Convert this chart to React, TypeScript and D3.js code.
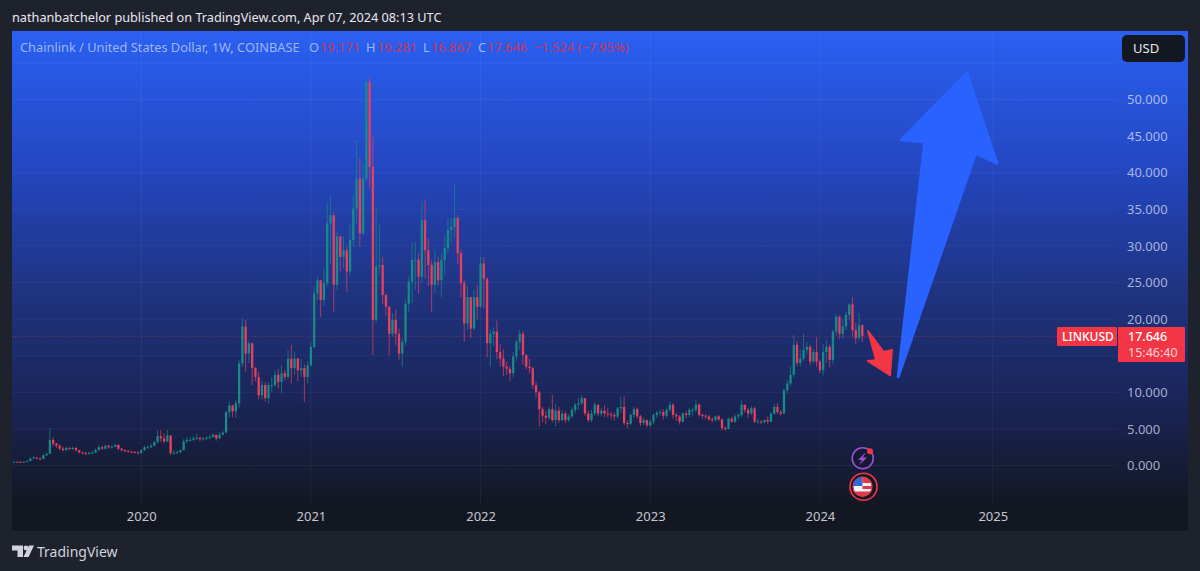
import * as d3 from "d3";
import React, { useRef, useEffect } from "react";

const width = 1200;
const height = 571;

const firstWeek = "2019-04-08";

// weekly bars, open of a bar is the close before it
const closes = [
  0.52, 0.5, 0.48, 0.5, 0.6, 0.95, 1.1, 0.95, 0.9, 1.4,
  1.6, 3.5, 3.0, 2.7, 2.3, 2.1, 2.4, 2.3, 2.4, 2.1,
  1.8, 1.7, 1.6, 1.7, 1.75, 2.1, 2.5, 2.3, 2.7, 2.5,
  2.55, 2.8, 2.3, 2.1, 2.0, 1.9, 1.85, 1.8, 1.7, 2.1,
  2.5, 2.5, 2.7, 3.2, 4.0, 3.7, 3.3, 4.1, 1.7, 1.75,
  1.8, 2.1, 3.3, 3.5, 3.5, 3.7, 3.8, 3.6, 3.7, 3.8,
  3.9, 4.2, 3.7, 4.2, 4.5, 7.3, 8.2, 7.4, 8.5, 13.95,
  19, 15.3, 16.7, 13.3, 12.1, 9.6, 11, 9.2, 11, 11,
  12.4, 11.4, 12.6, 12.1, 14.6, 13.3, 14.6, 13, 13.3, 12.1,
  13.7, 16.2, 23.5, 25.3, 22.6, 24.9, 33.1, 34.2, 24.7, 31.3,
  28.5, 29.4, 26.5, 30.8, 35.1, 39.2, 31.7, 39.2, 52.4, 40.8,
  19.9, 27.2, 27.4, 23.3, 21.7, 18, 19.9, 18, 15.3, 16.9,
  22.1, 25.1, 28.1, 28.1, 25.8, 33.5, 29.4, 27.4, 24.7, 27.8,
  25.3, 28.1, 29.7, 32.2, 32.6, 33.8, 29, 24.9, 19.4, 23,
  18.7, 23, 21.7, 27.6, 25.5, 16.7, 18, 18.3, 15.5, 14.6,
  13.5, 13.2, 12.6, 14.9, 16.9, 18, 15.1, 13.5, 13.3, 11,
  10, 7.7, 6.8, 6.5, 7.7, 6.2, 7.5, 6.2, 7.1, 6.2,
  6.7, 7.6, 8.3, 8.5, 9.2, 7.1, 6.2, 7.1, 8.3, 7.1,
  7.5, 7.1, 7, 6.9, 6.7, 7.8, 8, 5.8, 5.7, 6.9,
  7.7, 6.7, 5.8, 6.2, 5.5, 6, 6.9, 7.2, 7.3, 6.8,
  7.6, 8.3, 6.9, 6.7, 6, 7.1, 6.9, 7.6, 7.6, 8.3,
  6.9, 6.8, 6.7, 6.3, 6.2, 6.7, 6.3, 5.1, 5, 6.4,
  6, 6.7, 6.9, 8.3, 7.6, 7.1, 7.8, 6, 6, 5.9,
  6.2, 6, 7.1, 8, 7.3, 7.1, 10.3, 11.2, 12.4, 16.5,
  14, 14.6, 15.8, 16.2, 14.2, 15.5, 14.2, 13, 15.5, 16.2,
  14.4, 18.3, 20.3, 18, 19, 20.6, 22, 18.5, 17.4, 19.17,
  17.646,
];

const highs = [
  0.55, 0.55, 0.55, 0.55, 0.7, 1.05, 1.3, 1.15, 1.1, 1.6,
  1.8, 5.1, 3.9, 3.1, 2.9, 2.6, 2.6, 2.6, 2.6, 2.5,
  2.1, 1.9, 1.9, 1.9, 2.0, 2.3, 2.8, 2.7, 2.9, 2.8,
  2.8, 3.0, 2.9, 2.4, 2.2, 2.1, 2.0, 2.0, 1.9, 2.2,
  2.7, 2.8, 3.0, 3.4, 4.8, 4.8, 4.4, 4.8, 4.1, 2.1,
  2.1, 2.2, 3.6, 3.9, 3.9, 4.0, 4.3, 3.9, 3.9, 4.0,
  4.2, 4.4, 4.2, 4.6, 4.8, 7.5, 8.7, 8.3, 8.9, 14.4,
  20.1, 19.9, 17, 16.8, 13.5, 12.8, 11.6, 11.4, 11.4, 12.1,
  13, 13.2, 13.7, 13.1, 15.8, 16.5, 15.5, 14.7, 14.6, 13.8,
  14.3, 16.9, 24.5, 25.8, 23.9, 26.9, 35.8, 36.9, 34.6, 32,
  31, 31.3, 29.9, 33, 37, 44.5, 42, 41.3, 52.7, 53,
  44.9, 35.3, 32.9, 28.5, 23.5, 21.5, 20.8, 21.3, 18.7, 17.4,
  22.6, 25.8, 30.5, 30.5, 29, 36, 36.3, 31, 28, 29.5,
  28.5, 29, 31.4, 33.8, 33.9, 38.3, 34.2, 29.5, 25.3, 24.5,
  21.5, 24, 24.6, 28.5, 28.5, 25.7, 18.6, 18.9, 19.8, 16.6,
  15.9, 14.2, 13.6, 15.5, 17.2, 18.5, 18.3, 15.2, 14.6, 13.5,
  11.5, 10.2, 8, 7.5, 8, 9.6, 8.4, 8, 7.6, 7.4,
  7, 8, 8.5, 9.2, 9.6, 9.1, 7.5, 7.6, 8.6, 8.3,
  7.9, 8.2, 7.9, 7.3, 7.2, 8, 9.4, 9.5, 6.2, 7.1,
  8, 7.9, 6.9, 6.6, 6.3, 6.3, 7.1, 7.5, 7.7, 7.7,
  7.9, 8.7, 8.5, 7.2, 6.9, 7.2, 7.4, 7.9, 7.9, 9,
  8.5, 7.1, 7, 6.9, 6.6, 6.9, 6.9, 6.4, 5.4, 6.6,
  6.7, 7, 7.2, 8.9, 8.2, 7.9, 8.1, 8, 6.4, 6.2,
  6.3, 6.7, 7.3, 8.4, 8.5, 7.6, 10.5, 11.7, 13.5, 17.8,
  17, 15.9, 18, 16.9, 16.5, 15.9, 17.5, 14.5, 16.6, 17.1,
  16.5, 18.6, 20.6, 20.5, 20, 21, 22.2, 23, 19.5, 20.8,
  19.281,
];

const lows = [
  0.45, 0.45, 0.4, 0.45, 0.5, 0.6, 0.9, 0.85, 0.8, 0.9,
  1.3, 1.6, 2.6, 2.4, 2.1, 1.9, 2.0, 2.1, 2.1, 1.9,
  1.6, 1.5, 1.4, 1.5, 1.6, 1.7, 2.0, 2.1, 2.2, 2.3,
  2.3, 2.5, 2.1, 1.9, 1.8, 1.75, 1.7, 1.65, 1.5, 1.6,
  2.0, 2.3, 2.4, 2.6, 3.0, 3.2, 3.0, 3.2, 1.4, 1.5,
  1.6, 1.7, 2.0, 3.1, 3.3, 3.3, 3.5, 3.3, 3.4, 3.5,
  3.6, 3.8, 3.4, 3.6, 4.1, 4.4, 6.6, 6.6, 6.5, 7.9,
  13.5, 12.8, 14, 11, 11.5, 9, 9, 8.7, 8.5, 10,
  10.7, 10.5, 9.9, 11.6, 11.8, 11.2, 12.4, 11.5, 12.1, 8.7,
  11.2, 13.5, 16.0, 22.5, 20.3, 21.8, 24.5, 27.5, 21, 24,
  26.5, 27, 23.7, 26, 30, 33, 29.9, 31.5, 38.9, 37.9,
  15.1, 19.5, 26, 22, 20.5, 15.1, 17.6, 16.5, 14.4, 13.5,
  16.4, 21, 22.2, 24, 23.5, 25, 25.5, 24.5, 21, 23.5,
  24.5, 23, 26, 29, 30.5, 31, 27.5, 23, 16.9, 18.5,
  17.4, 18.5, 20, 21.5, 21.5, 14.8, 13.5, 16.3, 14.5, 13.5,
  12.2, 12.4, 11.5, 12, 14.3, 15.8, 13.8, 13.1, 12.6, 10.5,
  9.3, 5.3, 5.9, 5.6, 6.2, 5.9, 5.3, 5.8, 6, 5.8,
  6, 6.5, 7.1, 7.6, 8.2, 6.8, 5.9, 5.9, 6.8, 6.7,
  6.7, 6.6, 6.6, 6.3, 6.1, 6.4, 7.2, 5.5, 5.1, 5.5,
  6.5, 6.4, 5.4, 5.5, 5.2, 5.2, 5.6, 6.5, 6.8, 6.3,
  6.5, 7.3, 6.4, 6.1, 5.6, 5.8, 6.4, 6.6, 6.8, 7.2,
  6.7, 6.4, 6.3, 6.1, 5.9, 6, 6.1, 4.8, 4.8, 4.9,
  5.8, 5.8, 6.3, 6.6, 7.2, 6.5, 6.9, 5.8, 5.7, 5.7,
  5.7, 5.7, 5.9, 6.9, 7, 6.8, 7, 9.8, 10.9, 12,
  13.6, 13.5, 14.3, 15.2, 13.7, 14, 13.5, 12.6, 12.3, 14,
  13.4, 13.9, 17.7, 17.3, 17.3, 18.5, 19.9, 17.5, 16.6, 17.1,
  16.867,
];

const priceTicks = [0, 5, 10, 15, 20, 25, 30, 35, 40, 45, 50];
const gridPrices = [0, 5, 10, 15, 20, 25, 30, 35, 40, 45, 50, 55];
const yearTicks = ["2020-01-06", "2021-01-04", "2022-01-03", "2023-01-02", "2024-01-01", "2025-01-06"];

const lastPrice = 17.646;

// drawn annotations as [week number, price]
const blueArrow = [[271, 12.13], [279.2, 44.2], [272, 44.5], [292, 53.6], [301.4, 41.3], [294.8, 42.65]];
const redArrow = [[261.8, 18.4], [266.6, 15.55], [269.2, 15.8], [268.7, 12.27], [261.6, 14.3], [264.2, 14.4]];

const legendParts = [
  { t: "Chainlink / United States Dollar, 1W, COINBASE", x: 20, red: false },
  { t: "O", x: 309, red: false },
  { t: "19.171", x: 320, red: true },
  { t: "H", x: 366, red: false },
  { t: "19.281", x: 377, red: true },
  { t: "L", x: 423, red: false },
  { t: "16.867", x: 431, red: true },
  { t: "C", x: 478, red: false },
  { t: "17.646", x: 487, red: true },
  { t: "\u22121.524 (\u22127.95%)", x: 534, red: true },
];

const font = "'Noto Sans', sans-serif";
const upColor = "#188a88";
const downColor = "#e8405e";

const parseDay = d3.utcParse("%Y-%m-%d");
const weekDate = (i: number) => d3.utcDay.offset(parseDay(firstWeek) as Date, i * 7);

export default function App() {
  const ref = useRef(null);

  useEffect(() => {
    const svg = d3.select(ref.current);

    const x = d3
      .scaleUtc()
      .domain([parseDay(firstWeek) as Date, parseDay("2024-04-01") as Date])
      .range([14, 862.3]);
    const y = d3.scaleLinear().domain([0, 50]).range([465.5, 99.5]);

    // grid
    const grid = svg.select(".grid");
    grid
      .selectAll("line.h")
      .data(gridPrices)
      .join("line")
      .attr("class", "h")
      .attr("x1", 12)
      .attr("x2", 1117)
      .attr("y1", (d: any) => y(d))
      .attr("y2", (d: any) => y(d))
      .attr("stroke", "rgba(255,255,255,0.05)");
    grid
      .selectAll("line.v")
      .data(yearTicks)
      .join("line")
      .attr("class", "v")
      .attr("x1", (d: any) => x(parseDay(d) as Date))
      .attr("x2", (d: any) => x(parseDay(d) as Date))
      .attr("y1", 31)
      .attr("y2", 505)
      .attr("stroke", "rgba(255,255,255,0.05)");

    // price line
    svg
      .select(".priceLine")
      .attr("x1", 12)
      .attr("x2", 1117)
      .attr("y1", y(lastPrice))
      .attr("y2", y(lastPrice))
      .attr("stroke", "#f23645")
      .attr("stroke-opacity", 0.5)
      .attr("stroke-dasharray", "1 2");

    // candles
    const bars = closes.map((c, i) => ({
      date: weekDate(i),
      open: i === 0 ? c : closes[i - 1],
      close: c,
      high: highs[i],
      low: lows[i],
    }));
    const barColor = (d: any) => (d.close >= d.open ? upColor : downColor);

    svg
      .select(".wicks")
      .selectAll("line")
      .data(bars)
      .join("line")
      .attr("x1", (d: any) => x(d.date))
      .attr("x2", (d: any) => x(d.date))
      .attr("y1", (d: any) => y(Math.max(d.high, d.open, d.close)))
      .attr("y2", (d: any) => y(Math.min(d.low, d.open, d.close)))
      .attr("stroke", barColor)
      .attr("stroke-opacity", 0.7)
      .attr("stroke-width", 1);
    svg
      .select(".bodies")
      .selectAll("rect")
      .data(bars)
      .join("rect")
      .attr("x", (d: any) => x(d.date) - 1.15)
      .attr("width", 2.3)
      .attr("y", (d: any) => y(Math.max(d.open, d.close)))
      .attr("height", (d: any) => Math.max(1, Math.abs(y(d.open) - y(d.close))))
      .attr("fill", barColor);

    // arrows
    const arrowLine = d3
      .line()
      .x((d: any) => x(weekDate(d[0])))
      .y((d: any) => y(d[1]))
      .curve(d3.curveLinearClosed);
    svg
      .select(".blueArrow")
      .attr("d", arrowLine(blueArrow as any))
      .attr("fill", "#2962ff")
      .attr("stroke", "#2962ff")
      .attr("stroke-width", 3)
      .attr("stroke-linejoin", "round");
    svg
      .select(".redArrow")
      .attr("d", arrowLine(redArrow as any))
      .attr("fill", "#f23645")
      .attr("stroke", "#f23645")
      .attr("stroke-width", 1.5)
      .attr("stroke-linejoin", "round");

    // axes
    svg
      .select(".y-axis")
      .attr("transform", "translate(1127,0)")
      .call(
        d3
          .axisRight(y)
          .tickValues(priceTicks)
          .tickSize(0)
          .tickFormat(d3.format(".3f") as any) as any
      )
      .call((g: any) => g.select(".domain").remove())
      .call((g: any) =>
        g
          .selectAll("text")
          .attr("x", 0)
          .attr("text-anchor", "start")
          .attr("fill", "rgba(214,222,245,0.75)")
          .style("font-family", font)
          .style("font-size", "13px")
      );
    svg
      .select(".x-axis")
      .attr("transform", "translate(0,509)")
      .call(
        d3
          .axisBottom(x)
          .tickValues(yearTicks.map((d) => parseDay(d) as Date))
          .tickSize(0)
          .tickFormat(d3.utcFormat("%Y") as any) as any
      )
      .call((g: any) => g.select(".domain").remove())
      .call((g: any) =>
        g
          .selectAll("text")
          .attr("y", 3)
          .attr("fill", "#c4c7d0")
          .style("font-family", font)
          .style("font-size", "13px")
      );
  }, []);

  return (
    <svg
      ref={ref}
      width={width}
      height={height}
      viewBox={`0 0 ${width} ${height}`}
      style={{ position: "absolute", left: 0, top: 0, display: "block" }}
    >
      <defs>
        <linearGradient id="paneFill" x1="0" y1="0" x2="0" y2="1">
          <stop offset="0" stopColor="#2a60f2" />
          <stop offset="0.26" stopColor="#2448c4" />
          <stop offset="0.52" stopColor="#1f3380" />
          <stop offset="0.74" stopColor="#1a2558" />
          <stop offset="0.95" stopColor="#131722" />
          <stop offset="1" stopColor="#131722" />
        </linearGradient>
      </defs>

      <rect x={0} y={0} width={width} height={height} fill="#1e222d" />
      <rect x={12} y={31} width={1176} height={500} fill="url(#paneFill)" />

      <text x={12} y={22} fill="#e6e8ee" fontFamily={font} fontSize={12.7}>
        nathanbatchelor published on TradingView.com, Apr 07, 2024 08:13 UTC
      </text>

      <g className="grid"></g>
      <line className="priceLine"></line>
      <g className="wicks"></g>
      <g className="bodies"></g>
      <path className="blueArrow"></path>
      <path className="redArrow"></path>
      <g className="y-axis"></g>
      <g className="x-axis"></g>

      {legendParts.map((p) => (
        <text
          key={p.x}
          x={p.x}
          y={52}
          fontFamily={font}
          fontSize={12.8}
          fill={p.red ? "#c8385f" : "rgba(205,218,250,0.72)"}
        >
          {p.t}
        </text>
      ))}

      {/* currency button */}
      <rect x={1122} y={35} width={63} height={27} rx={5} fill="#131722" />
      <text x={1133} y={53} fill="#e6e8ee" fontFamily={font} fontSize={13}>
        USD
      </text>

      {/* last price labels */}
      <rect x={1057} y={327} width={60} height={19} rx={1} fill="#f23645" />
      <text x={1062} y={341} fill="#fff" fontFamily={font} fontSize={12} fontWeight={500}>
        LINKUSD
      </text>
      <rect x={1118} y={327} width={67} height={35} rx={1} fill="#f23645" />
      <text x={1128} y={340.5} fill="#fff" fontFamily={font} fontSize={12.5} fontWeight={500}>
        17.646
      </text>
      <text x={1128} y={357} fill="rgba(255,255,255,0.8)" fontFamily={font} fontSize={12.5}>
        15:46:40
      </text>

      {/* event icons */}
      <circle cx={862.7} cy={458.3} r={10.5} fill="#161a30" stroke="#9b4fd6" strokeWidth={1.6} />
      <path d="M866 452 L858 460 L862 460 L859 465 L867 457.5 L863 457.5 Z" fill="#9b4fd6" />
      <circle cx={870} cy={451.3} r={3} fill="#f23645" />
      <circle cx={863.5} cy={486.7} r={13.5} fill="#141826" stroke="#f23645" strokeWidth={1.6} />
      <circle cx={862.5} cy={486.7} r={9.5} fill="#f5f5f5" stroke="#f23645" strokeWidth={1.2} />
      <path d="M854 482 A9.5 9.5 0 0 1 862.5 477.2 L862.5 486 L853.2 486 A9.5 9.5 0 0 1 854 482 Z" fill="#3567d6" />
      <path d="M862.5 477.2 A9.5 9.5 0 0 1 871.2 483 L862.5 483 Z" fill="#e0394a" />
      <path d="M862.5 486 L872 486 A9.5 9.5 0 0 1 871.5 489 L862.5 489 Z" fill="#e0394a" />
      <path d="M854.2 491.5 L870.8 491.5 A9.5 9.5 0 0 1 862.5 496.2 A9.5 9.5 0 0 1 854.2 491.5 Z" fill="#e0394a" />

      {/* logo */}
      <g fill="#d1d4dc">
        <path d="M12 545.5 H23 V557 H17.5 V550.5 H12 Z" />
        <circle cx={26} cy={548} r={2.4} />
        <path d="M29 545.5 H34 L28.5 557 H23.5 Z" />
      </g>
      <text x={37} y={557} fill="#d1d4dc" fontFamily={font} fontSize={14}>
        TradingView
      </text>
    </svg>
  );
}
